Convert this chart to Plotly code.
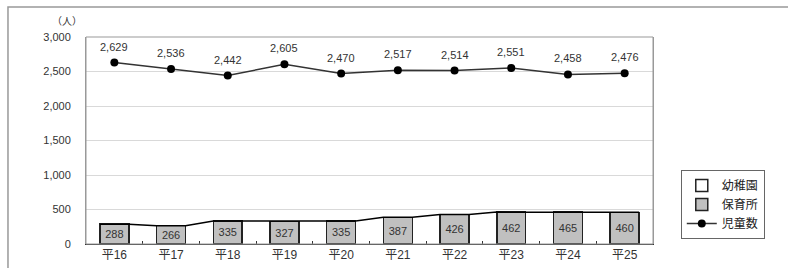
import plotly.graph_objects as go

categories = ["平16", "平17", "平18", "平19", "平20", "平21", "平22", "平23", "平24", "平25"]
kindergarten = [0, 0, 0, 0, 0, 0, 0, 0, 0, 0]
nursery = [288, 266, 335, 327, 335, 387, 426, 462, 465, 460]
children = [2629, 2536, 2442, 2605, 2470, 2517, 2514, 2551, 2458, 2476]

BAR_W = 0.51
xs = list(range(len(categories)))
font_fam = "Liberation Sans, Noto Sans CJK JP, sans-serif"

fig = go.Figure()

sx, sy = [], []
for i, v in enumerate(nursery):
    tot = v + kindergarten[i]
    sx += [i - BAR_W / 2, i + BAR_W / 2]
    sy += [tot, tot]
fig.add_trace(go.Scatter(x=sx, y=sy, mode="lines", line=dict(color="black", width=1.5),
                         showlegend=False, hoverinfo="skip"))

fig.add_trace(go.Bar(x=xs, y=kindergarten, name="幼稚園", width=BAR_W,
                     marker=dict(color="white", line=dict(color="#222222", width=1.5))))
fig.add_trace(go.Bar(x=xs, y=nursery, name="保育所", width=BAR_W,
                     marker=dict(color="#c0c0c0", line=dict(color="#222222", width=1.5)),
                     text=nursery, textposition="inside", insidetextanchor="middle",
                     textfont=dict(size=11, color="#333333")))
fig.add_trace(go.Scatter(x=xs, y=children, name="児童数", mode="lines+markers",
                         line=dict(color="#333333", width=1.5),
                         marker=dict(color="black", size=8)))

annotations = [dict(text="（人）", xref="paper", yref="paper", x=-0.0335, y=1.0725,
                    xanchor="center", yanchor="middle", showarrow=False,
                    font=dict(size=10, color="#333333"))]
for i, v in enumerate(children):
    annotations.append(dict(x=xs[i], y=v, text=f"{v:,}", showarrow=False,
                            yshift=16, xanchor="center", yanchor="middle",
                            font=dict(size=11, color="#333333")))

fig.update_layout(
    barmode="stack",
    width=788, height=268,
    margin=dict(l=86, r=135, t=37, b=24, autoexpand=False),
    paper_bgcolor="white", plot_bgcolor="white",
    font=dict(family=font_fam, size=11, color="#333333"),
    legend=dict(x=1.049, y=0.357, xanchor="left", yanchor="top", traceorder="normal",
                bordercolor="#666666", borderwidth=1,
                font=dict(size=12, color="#222222"), tracegroupgap=0,
                itemwidth=30),
    shapes=[dict(type="rect", xref="paper", yref="paper",
                 x0=-0.1376, x1=1.245, y0=-0.13, y1=1.1449,
                 line=dict(color="#999999", width=1.5), layer="below")],
    annotations=annotations,
)
fig.update_xaxes(range=[-0.5, len(categories) - 0.5], tickvals=xs, ticktext=categories,
                 ticks="", showline=True, linecolor="#333333", linewidth=1, mirror=False,
                 automargin=False,
                 tickfont=dict(size=12, color="#333333"),
                 minor=dict(tickvals=[i + 0.5 for i in xs[:-1]], ticks="inside",
                            ticklen=3, tickcolor="#333333"))
fig.update_yaxes(range=[0, 3000], dtick=500, tickformat=",", showgrid=True,
                 gridcolor="#d9d9d9", showline=True, linecolor="#999999", mirror=True,
                 automargin=False, ticklabelstandoff=12,
                 tickfont=dict(size=11, color="#333333"), zeroline=False)

fig.add_shape(type="rect", xref="paper", yref="paper", x0=0, x1=1, y0=0, y1=1,
              line=dict(color="#999999", width=1))

fig.write_html("out.html", config={"displayModeBar": False},
               post_script="document.body.style.margin='0';")
